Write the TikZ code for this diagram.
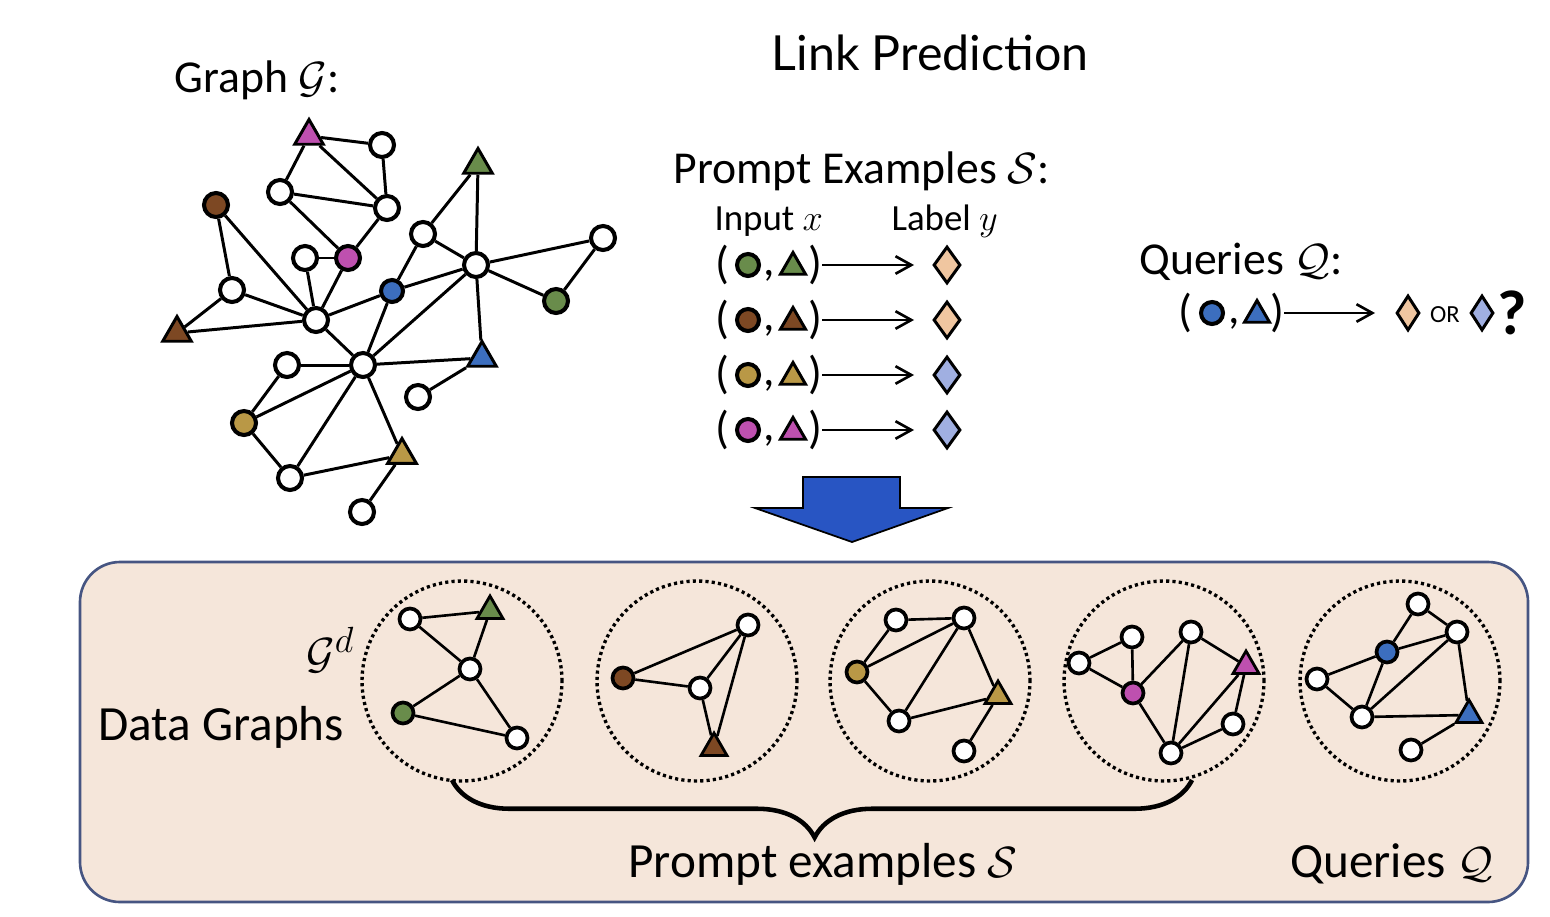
\documentclass[tikz,border=0pt]{standalone}
\usepackage{amsmath,amssymb}
\usepackage{fontspec}
\setmainfont{Carlito}
\newfontfamily\titlefont{Lato}
\usepackage{xcolor}
\usepackage{tikz}
\usetikzlibrary{positioning,arrows.meta,shapes.geometric,decorations.pathreplacing}

\definecolor{ngreen}{RGB}{105,140,75}
\definecolor{nbrown}{RGB}{125,72,35}
\definecolor{ngold}{RGB}{185,152,70}
\definecolor{npink}{RGB}{190,80,175}
\definecolor{nblue}{RGB}{60,110,190}
\definecolor{lpeach}{RGB}{240,198,160}
\definecolor{llav}{RGB}{160,175,225}
\definecolor{panelbg}{RGB}{245,230,218}
\definecolor{panelline}{RGB}{70,85,130}
\definecolor{bigblue}{RGB}{40,85,195}

\pgfdeclarelayer{bg}
\pgfdeclarelayer{edges}
\pgfsetlayers{bg,edges,main}

\begin{document}
\begin{tikzpicture}[x=0.02cm,y=-0.02cm,line width=1.7pt]
  \tikzstyle{vtx}=[circle,draw,fill=white,line width=2.3pt,inner sep=0pt,minimum size=0.48cm]
  \tikzstyle{tri}=[regular polygon,regular polygon sides=3,draw,line width=1.7pt,inner sep=0pt,minimum size=0.66cm]
  \tikzstyle{svtx}=[vtx,minimum size=0.42cm,line width=2.1pt]
  \tikzstyle{stri}=[tri,minimum size=0.6cm,line width=1.6pt]
  \tikzstyle{dmd}=[diamond,draw,line width=1.7pt,inner sep=0pt,minimum width=0.54cm,minimum height=0.74cm]
  \tikzstyle{ring}=[circle,draw,dash pattern=on 1.8pt off 1.8pt,line width=1.9pt,minimum size=4cm]
  \tikzstyle{txt}=[font=\fontsize{26}{31}\selectfont,inner sep=0pt]
  \tikzstyle{pfeil}=[-{Straight Barb[length=9pt,width=10pt]},line width=1.5pt]

  \useasboundingbox (0,0) rectangle (1550,916);

  % titles
  \node[font=\titlefont\fontsize{27.5}{32}\selectfont,anchor=base] (title) at (930,70) {Link Prediction};
  \node[txt,anchor=base west] (glabel) at (173,92) {Graph $\mathcal{G}$:};
  \node[txt,anchor=base west] (plabel) at (672,183) {Prompt Examples $\mathcal{S}$:};
  \node[txt,font=\fontsize{21}{25}\selectfont,anchor=base west] (inlabel) at (713,230) {Input $x$};
  \node[txt,font=\fontsize{21}{25}\selectfont,anchor=base west] (lalabel) at (890,230) {Label $y$};
  \node[txt,anchor=base west] (qlabel) at (1138,274) {Queries $\mathcal{Q}$:};

  % input graph
  \node[tri,fill=npink] (pinkT) at (309,136) {};
  \node[vtx] (w1) at (382,145) {};
  \node[vtx] (w2) at (280,192) {};
  \node[vtx] (w3) at (387,208) {};
  \node[vtx,fill=nbrown] (brownC) at (216,205) {};
  \node[tri,fill=ngreen] (greenT) at (478,165) {};
  \node[vtx] (w4) at (423,234) {};
  \node[vtx] (w5) at (305,258) {};
  \node[vtx,fill=npink] (pinkC) at (348,258) {};
  \node[vtx] (w6) at (476,265) {};
  \node[vtx] (w7) at (603,238) {};
  \node[vtx] (w8) at (232,290) {};
  \node[vtx,fill=nblue,minimum size=0.44cm] (blueC) at (392,291) {};
  \node[vtx,fill=ngreen] (greenC) at (556,301) {};
  \node[tri,fill=nbrown] (brownT) at (177,333) {};
  \node[vtx] (w9) at (316,320) {};
  \node[tri,fill=nblue] (blueT) at (482,358) {};
  \node[vtx] (w10) at (287,365) {};
  \node[vtx] (w11) at (363,365) {};
  \node[vtx] (w12) at (418,397) {};
  \node[vtx,fill=ngold] (goldC) at (244,423) {};
  \node[tri,fill=ngold] (goldT) at (402,455) {};
  \node[vtx] (w13) at (290,478) {};
  \node[vtx] (w14) at (362,512) {};

  \begin{pgfonlayer}{edges}
    \foreach \a/\b in {pinkT/w1,pinkT/w2,pinkT/w3,w1/w3,w2/w3,w2/pinkC,w3/pinkC,brownC/w8,brownC/w9,
      w5/pinkC,w5/w9,pinkC/w9,w8/brownT,w8/w9,brownT/w9,w9/blueC,w9/w11,greenT/w4,greenT/w6,w4/w6,
      w4/blueC,blueC/w6,blueC/w11,w6/w7,w6/greenC,w7/greenC,w6/w11,w6/blueT,w11/blueT,w11/w10,
      w11/goldC,w11/w13,w11/goldT,blueT/w12,w10/goldC,goldC/w13,w13/goldT,goldT/w14}
      \draw[line width=1.7pt] (\a) -- (\b);
  \end{pgfonlayer}

  % prompt examples
  \foreach \y/\cc/\dc [count=\i] in {265/ngreen/lpeach,320/nbrown/lpeach,375/ngold/llav,430/npink/llav}{
    \node[txt] (pl\i) at (722,\y) {(};
    \node[vtx,fill=\cc,minimum size=0.44cm] (pc\i) at (748,\y) {};
    \node[txt,anchor=base] (cm\i) at (769,\y+10) {,};
    \node[tri,fill=\cc,minimum size=0.58cm] (pt\i) at (793,\y+2) {};
    \node[txt] (pr\i) at (815,\y) {)};
    \node[dmd,fill=\dc] (dm\i) at (947,\y) {};
    \draw[pfeil,shorten >=0.36cm] (pr\i) -- (dm\i);
  }

  % query
  \node[txt] (qryl) at (1185,313) {(};
  \node[vtx,fill=nblue,minimum size=0.44cm] (qryc) at (1212,313) {};
  \node[txt,anchor=base] (qrycm) at (1234,323) {,};
  \node[tri,fill=nblue,minimum size=0.58cm] (qryt) at (1257,315) {};
  \node[txt] (qryr) at (1277,313) {)};
  \node[dmd,fill=lpeach,minimum width=0.46cm,minimum height=0.7cm] (qryd1) at (1408,313) {};
  \node[font=\fontsize{14}{16}\selectfont,inner sep=0pt] (qryor) at (1445,315) {OR};
  \node[dmd,fill=llav,minimum width=0.46cm,minimum height=0.7cm] (qryd2) at (1482,313) {};
  \node[font=\bfseries\fontsize{36}{40}\selectfont,inner sep=0pt] (qryq) at (1512,313) {?};
  \draw[pfeil,shorten >=0.4cm] (qryr) -- (qryd1);

  % big arrow
  \draw[fill=bigblue,line width=1pt] (803,477) -- (900,477) -- (900,508) -- (948,508) -- (852,542)
    -- (755,508) -- (803,508) -- cycle;

  % data graphs panel
  \begin{pgfonlayer}{bg}
    \draw[panelline,fill=panelbg,line width=1.5pt,rounded corners=0.8cm] (80,562) rectangle (1528,902);
  \end{pgfonlayer}

  \node[txt,font=\fontsize{28}{33}\selectfont,anchor=base west] (dlabel) at (98,740) {Data Graphs};
  \node[txt,font=\fontsize{29}{34}\selectfont,anchor=base west] (gdlabel) at (306,668) {$\mathcal{G}^d$};

  \node[ring] (ring1) at (462,681) {};
  \node[ring] (ring2) at (697,681) {};
  \node[ring] (ring3) at (930,681) {};
  \node[ring] (ring4) at (1164,681) {};
  \node[ring] (ring5) at (1400,681) {};

  \node[svtx] (u1) at (410,619) {};
  \node[stri,fill=ngreen] (u2) at (490,611) {};
  \node[svtx] (u3) at (470,669) {};
  \node[svtx,fill=ngreen] (u4) at (403,713) {};
  \node[svtx] (u5) at (517,738) {};

  \node[svtx] (v1) at (748,625) {};
  \node[svtx,fill=nbrown] (v2) at (623,678) {};
  \node[svtx] (v3) at (700,688) {};
  \node[stri,fill=nbrown] (v4) at (714,748) {};

  \node[svtx] (s1) at (896,620) {};
  \node[svtx] (s2) at (964,618) {};
  \node[svtx,fill=ngold] (s3) at (857,672) {};
  \node[stri,fill=ngold] (s4) at (998,696) {};
  \node[svtx] (s5) at (899,721) {};
  \node[svtx] (s6) at (964,751) {};

  \node[svtx] (t1) at (1079,663) {};
  \node[svtx] (t2) at (1132,637) {};
  \node[svtx,fill=npink] (t3) at (1133,693) {};
  \node[svtx] (t4) at (1191,632) {};
  \node[stri,fill=npink] (t5) at (1246,666) {};
  \node[svtx] (t6) at (1233,724) {};
  \node[svtx] (t7) at (1171,753) {};

  \node[svtx] (q1) at (1418,604) {};
  \node[svtx] (q2) at (1457,632) {};
  \node[svtx,fill=nblue] (q3) at (1387,652) {};
  \node[svtx] (q4) at (1317,679) {};
  \node[svtx] (q5) at (1362,717) {};
  \node[stri,fill=nblue] (q6) at (1469,715) {};
  \node[svtx] (q7) at (1411,750) {};

  \begin{pgfonlayer}{edges}
    \foreach \a/\b in {u1/u2,u1/u3,u3/u2,u3/u4,u3/u5,u4/u5,
      v2/v1,v2/v3,v3/v1,v3/v4,v1/v4,
      s1/s2,s1/s3,s3/s2,s2/s5,s2/s4,s3/s5,s5/s4,s4/s6,
      t1/t2,t1/t3,t2/t3,t3/t4,t3/t7,t4/t7,t4/t5,t5/t7,t5/t6,t6/t7,
      q1/q3,q1/q2,q3/q2,q3/q4,q3/q5,q4/q5,q5/q2,q5/q6,q2/q6,q6/q7}
      \draw[line width=1.5pt] (\a) -- (\b);
  \end{pgfonlayer}

  % brace and captions
  \coordinate (brL) at (452,780);
  \coordinate (brR) at (1192,780);
  \draw[line width=2.6pt,decorate,decoration={brace,mirror,amplitude=1.15cm,aspect=0.49}] (brL) -- (brR);
  \node[txt,font=\fontsize{28}{33}\selectfont,anchor=base west] (pexlabel) at (628,877) {Prompt examples $\mathcal{S}$};
  \node[txt,font=\fontsize{28}{33}\selectfont,anchor=base west] (qexlabel) at (1290,877) {Queries $\mathcal{Q}$};
\end{tikzpicture}
\end{document}
